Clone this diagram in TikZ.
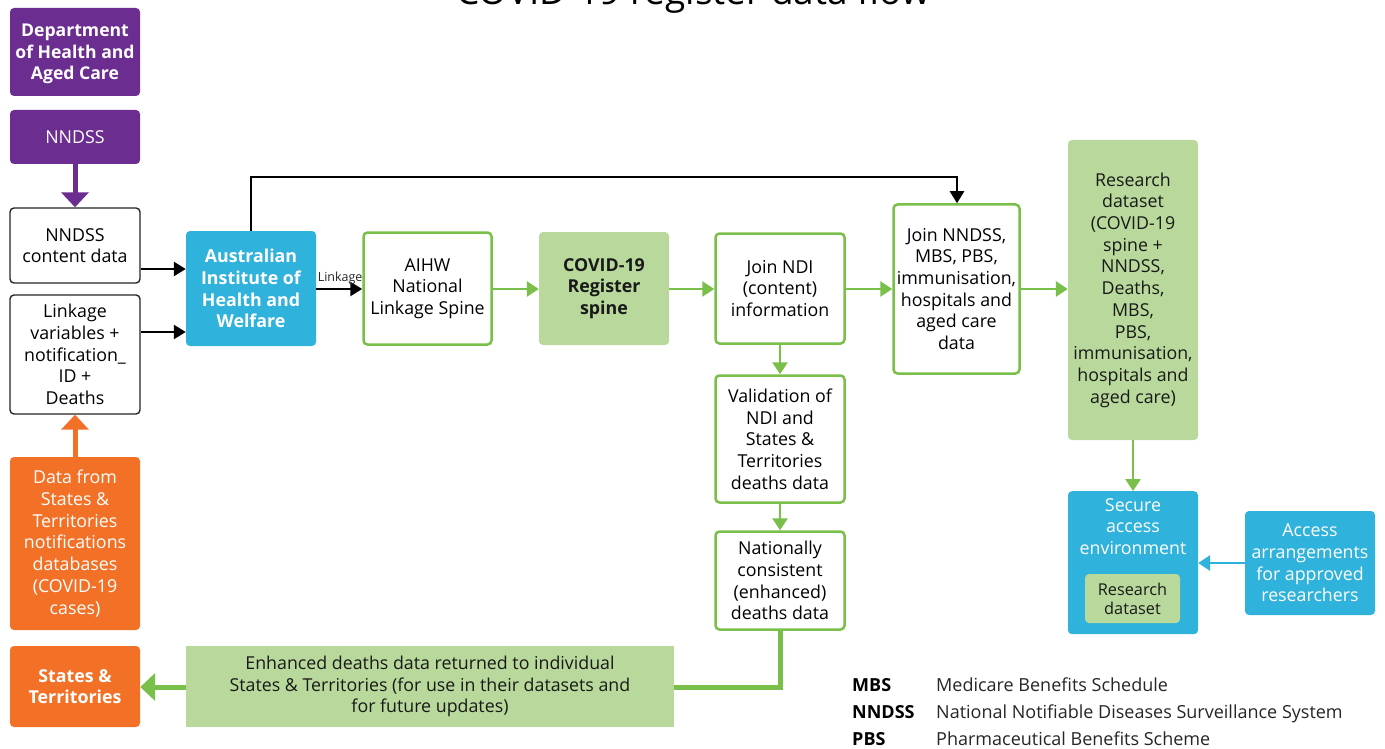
\documentclass[tikz,border=0pt]{standalone}
\usepackage{fontspec}
\setmainfont{Open Sans}
\usetikzlibrary{arrows.meta}
\definecolor{purp}{HTML}{6B2D90}
\definecolor{aihwblue}{HTML}{2FB2DB}
\definecolor{orng}{HTML}{F37127}
\definecolor{gfill}{HTML}{B8D99B}
\definecolor{gline}{HTML}{7BBF4B}
\tikzset{
  box/.style={rounded corners=4pt, align=center, inner sep=0pt, font=\fontsize{17.8}{21.7}\selectfont},
  purpbox/.style={box, fill=purp, text=white},
  whitebox/.style={box, draw=black!85, line width=1.4pt, fill=white},
  greenbox/.style={box, draw=gline, line width=2.5pt, fill=white},
  gfillbox/.style={box, fill=gfill, text=black!90},
  bluebox/.style={box, fill=aihwblue, text=white},
  orangebox/.style={box, fill=orng, text=white},
  blkarrow/.style={draw=black, line width=2.5pt, -{Triangle[length=12pt,width=14pt]}},
  grnarrow/.style={draw=gline, line width=2.8pt, -{Triangle[length=12pt,width=15pt]}},
  thickarrow/.style={line width=5pt, -{Triangle[length=15pt,width=27pt]}},
  legab/.style={font=\fontsize{18}{20}\selectfont\bfseries, anchor=base west, inner sep=0pt},
  legtx/.style={font=\fontsize{18}{20}\selectfont, anchor=base west, inner sep=0pt, text=black!85}
}
\begin{document}
\begin{tikzpicture}[x=1pt,y=-1pt]
\useasboundingbox (0,0) rectangle (1385,749);
\clip (0,0) rectangle (1385,749);
\fill[white] (0,0) rectangle (1385,749);

\node[font=\fontsize{37}{42}\selectfont, anchor=base, inner sep=0pt] (title) at (693,5) {COVID-19 register data flow};

% left column
\node[purpbox, minimum width=130, minimum height=88] (doh) at (75,52) {};
\node[text=white, align=center, inner sep=0pt, font=\fontsize{17.6}{21.7}\selectfont\bfseries] (dohtxt) at (75,54) {Department\\of Health and\\Aged Care};
\node[purpbox, minimum width=130, minimum height=54] (nndss) at (75,137) {NNDSS};
\node[whitebox, minimum width=130, minimum height=75] (content) at (75,245.5) {NNDSS\\content data};
\node[whitebox, minimum width=130, minimum height=119] (linkvars) at (75,354.5) {Linkage\\variables +\\notification\_\\ID +\\Deaths};
\node[orangebox, minimum width=130, minimum height=173] (states) at (75,543.5) {Data from\\States \&\\Territories\\notifications\\databases\\(COVID-19\\cases)};
\node[orangebox, minimum width=130, minimum height=81, font=\fontsize{17.8}{21.7}\selectfont\bfseries] (st) at (75,686.5) {States \&\\Territories};

% main row
\node[bluebox, minimum width=130, minimum height=115, font=\fontsize{17.8}{21.7}\selectfont\bfseries] (aihw) at (251,288.5) {Australian\\Institute of\\Health and\\Welfare};
\node[greenbox, minimum width=128, minimum height=112] (spine) at (427.5,288.5) {AIHW\\National\\Linkage Spine};
\node[gfillbox, minimum width=130, minimum height=113, font=\fontsize{17.8}{21.7}\selectfont\bfseries] (covid) at (604,288.5) {COVID-19\\Register\\spine};
\node[greenbox, minimum width=129, minimum height=110] (ndi) at (780,288.5) {Join NDI\\(content)\\information};
\node[greenbox, minimum width=126, minimum height=169] (join) at (956.5,289) {Join NNDSS,\\MBS, PBS,\\immunisation,\\hospitals and\\aged care\\data};
\node[gfillbox, minimum width=130, minimum height=300] (research) at (1133,290) {Research\\dataset\\(COVID-19\\spine +\\NNDSS,\\Deaths,\\MBS,\\PBS,\\immunisation,\\hospitals and\\aged care)};

% vertical chain
\node[greenbox, minimum width=129, minimum height=127] (valid) at (780,439) {Validation of\\NDI and\\States \&\\Territories\\deaths data};
\node[greenbox, minimum width=129, minimum height=98] (natl) at (780,580.5) {Nationally\\consistent\\(enhanced)\\deaths data};
\node[gfillbox, rounded corners=0pt, minimum width=488, minimum height=81] (enh) at (430,686.5) {Enhanced deaths data returned to individual\\States \& Territories (for use in their datasets and\\for future updates)};

% secure access
\node[bluebox, minimum width=130, minimum height=143, anchor=north] (secure) at (1133,491) {};
\node[box, text=white, anchor=north, inner sep=0pt] (securetxt) at (1133,498) {Secure\\access\\environment};
\node[gfillbox, minimum width=95, minimum height=49, font=\fontsize{16.3}{19}\selectfont] (inner) at (1132.5,598.5) {Research\\dataset};
\node[bluebox, minimum width=130, minimum height=104] (access) at (1310,563) {Access\\arrangements\\for approved\\researchers};

% connectors
\draw[thickarrow, draw=purp, fill=purp] (nndss.south) -- (content.north);
\draw[thickarrow, draw=orng, fill=orng] (states.north) -- (linkvars.south);
\draw[blkarrow] (content.east |- 0,269) -- (aihw.west |- 0,269);
\draw[blkarrow] (linkvars.east |- 0,332) -- (aihw.west |- 0,332);
\draw[blkarrow] (aihw.east |- 0,289) -- node[above=3pt, font=\fontsize{12.5}{14}\selectfont, text=black!85, inner sep=0pt, pos=0.52] (linklbl) {Linkage} (spine.west |- 0,289);
\draw[grnarrow] (spine.east |- 0,289) -- (covid.west |- 0,289);
\draw[grnarrow] (covid.east |- 0,289) -- (ndi.west |- 0,289);
\draw[grnarrow] (ndi.east |- 0,289) -- (join.west |- 0,289);
\draw[grnarrow] (join.east |- 0,289) -- (research.west |- 0,289);
\draw[grnarrow] (ndi.south) -- (valid.north);
\draw[grnarrow] (valid.south) -- (natl.north);
\draw[blkarrow, rounded corners=0pt] (aihw.north) -- (251,177) -- (957,177) -- (join.north -| 957,0);
\draw[gline, line width=5pt] (natl.south) -- (780,687) -- (enh.east |- 0,687);
\draw[thickarrow, draw=gline, fill=gline] (enh.west |- 0,687) -- (st.east |- 0,687);
\draw[grnarrow] (research.south) -- (secure.north);
\draw[draw=aihwblue, line width=2.8pt, -{Triangle[length=12pt,width=15pt]}] (access.west) -- (secure.east |- 0,563);

% legend
\node[legab] (l1a) at (852,691) {MBS};
\node[legtx] (l1b) at (936,691) {Medicare Benefits Schedule};
\node[legab] (l2a) at (852,718) {NNDSS};
\node[legtx] (l2b) at (936,718) {National Notifiable Diseases Surveillance System};
\node[legab] (l3a) at (852,745) {PBS};
\node[legtx] (l3b) at (936,745) {Pharmaceutical Benefits Scheme};
\end{tikzpicture}
\end{document}
